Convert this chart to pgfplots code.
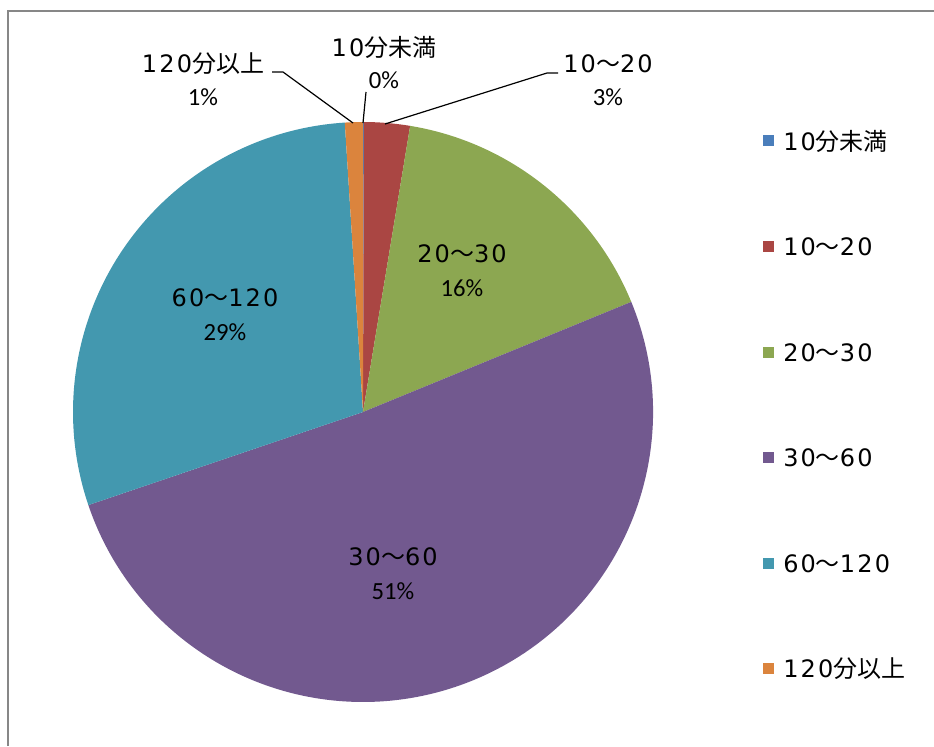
\documentclass[border=0pt]{standalone}
\usepackage{pgfplots}
\pgfplotsset{compat=1.18}
\usepackage{fontspec}
\setmainfont{Carlito}
\newfontfamily\cjk{Noto Sans CJK JP}
\newfontfamily\dg[LetterSpace=9]{DejaVu Sans}
\definecolor{cA}{HTML}{4A7EBB}
\definecolor{cB}{HTML}{AA4643}
\definecolor{cC}{HTML}{8CA751}
\definecolor{cD}{HTML}{72598F}
\definecolor{cE}{HTML}{4398AF}
\definecolor{cF}{HTML}{DB843D}
\definecolor{frame}{HTML}{878787}
\newcommand\lf{\fontsize{18}{20}\selectfont}
\newcommand\pf{\fontsize{18.5}{20}\selectfont}
\begin{document}
\begin{tikzpicture}
\begin{axis}[x=0.75pt,y=0.75pt,xmin=0,xmax=934,ymin=0,ymax=746,hide axis,clip=false]
% slices: percentages 0.05, 2.55, 16.2, 51.0, 29.2, 1.0 (cumulative 0,0.05,2.6,18.8,69.8,99.0,100)
\fill[cA] (axis cs:363,334) -- ++({90-3.6*0}:217.5pt) arc[start angle={90-3.6*0}, end angle={90-3.6*0.05}, radius=217.5pt] -- cycle;
\fill[cB] (axis cs:363,334) -- ++({90-3.6*0.05}:217.5pt) arc[start angle={90-3.6*0.05}, end angle={90-3.6*2.6}, radius=217.5pt] -- cycle;
\fill[cC] (axis cs:363,334) -- ++({90-3.6*2.6}:217.5pt) arc[start angle={90-3.6*2.6}, end angle={90-3.6*18.8}, radius=217.5pt] -- cycle;
\fill[cD] (axis cs:363,334) -- ++({90-3.6*18.8}:217.5pt) arc[start angle={90-3.6*18.8}, end angle={90-3.6*69.8}, radius=217.5pt] -- cycle;
\fill[cE] (axis cs:363,334) -- ++({90-3.6*69.8}:217.5pt) arc[start angle={90-3.6*69.8}, end angle={90-3.6*99.0}, radius=217.5pt] -- cycle;
\fill[cF] (axis cs:363,334) -- ++({90-3.6*99.0}:217.5pt) arc[start angle={90-3.6*99.0}, end angle={90-3.6*100}, radius=217.5pt] -- cycle;
% frame
\draw[frame, line width=1.6pt] (axis cs:8,0) -- (axis cs:8,735) -- (axis cs:934,735);
% leader lines
\draw[black, line width=0.9pt] (axis cs:272,674) -- (axis cs:283,674) -- (axis cs:353,623);
\draw[black, line width=0.9pt] (axis cs:366,654) -- (axis cs:363,623);
\draw[black, line width=0.9pt] (axis cs:558,673) -- (axis cs:547,673) -- (axis cs:385,622);
% data labels
\node[inner sep=0pt] at (axis cs:203,682) {\lf{\dg 120}{\cjk 分以上}};
\node[inner sep=0pt] at (axis cs:203,649) {\pf 1\%};
\node[inner sep=0pt] at (axis cs:384,699) {\lf{\dg 10}{\cjk 分未満}};
\node[inner sep=0pt] at (axis cs:384,666) {\pf 0\%};
\node[inner sep=0pt] at (axis cs:608,682) {\lf{\dg 10}{\cjk ～}{\dg 20}};
\node[inner sep=0pt] at (axis cs:608,649) {\pf 3\%};
\node[inner sep=0pt] at (axis cs:462,492) {\lf{\dg 20}{\cjk ～}{\dg 30}};
\node[inner sep=0pt] at (axis cs:462,458) {\pf 16\%};
\node[inner sep=0pt] at (axis cs:225,448) {\lf{\dg 60}{\cjk ～}{\dg 120}};
\node[inner sep=0pt] at (axis cs:225,414) {\pf 29\%};
\node[inner sep=0pt] at (axis cs:393,189) {\lf{\dg 30}{\cjk ～}{\dg 60}};
\node[inner sep=0pt] at (axis cs:393,155) {\pf 51\%};
% legend
\fill[cA] (axis cs:763,600) rectangle (axis cs:774,611);
\node[anchor=west, inner sep=0pt] at (axis cs:783,605) {\lf{\dg 10}{\cjk 分未満}};
\fill[cB] (axis cs:763,494) rectangle (axis cs:774,505);
\node[anchor=west, inner sep=0pt] at (axis cs:783,499) {\lf{\dg 10}{\cjk ～}{\dg 20}};
\fill[cC] (axis cs:763,388) rectangle (axis cs:774,399);
\node[anchor=west, inner sep=0pt] at (axis cs:783,393) {\lf{\dg 20}{\cjk ～}{\dg 30}};
\fill[cD] (axis cs:763,283) rectangle (axis cs:774,294);
\node[anchor=west, inner sep=0pt] at (axis cs:783,288) {\lf{\dg 30}{\cjk ～}{\dg 60}};
\fill[cE] (axis cs:763,177) rectangle (axis cs:774,188);
\node[anchor=west, inner sep=0pt] at (axis cs:783,182) {\lf{\dg 60}{\cjk ～}{\dg 120}};
\fill[cF] (axis cs:763,72) rectangle (axis cs:774,83);
\node[anchor=west, inner sep=0pt] at (axis cs:783,77) {\lf{\dg 120}{\cjk 分以上}};
\end{axis}
\pgfresetboundingbox
\path (current axis.south west) rectangle (current axis.north east);
\end{tikzpicture}
\end{document}
